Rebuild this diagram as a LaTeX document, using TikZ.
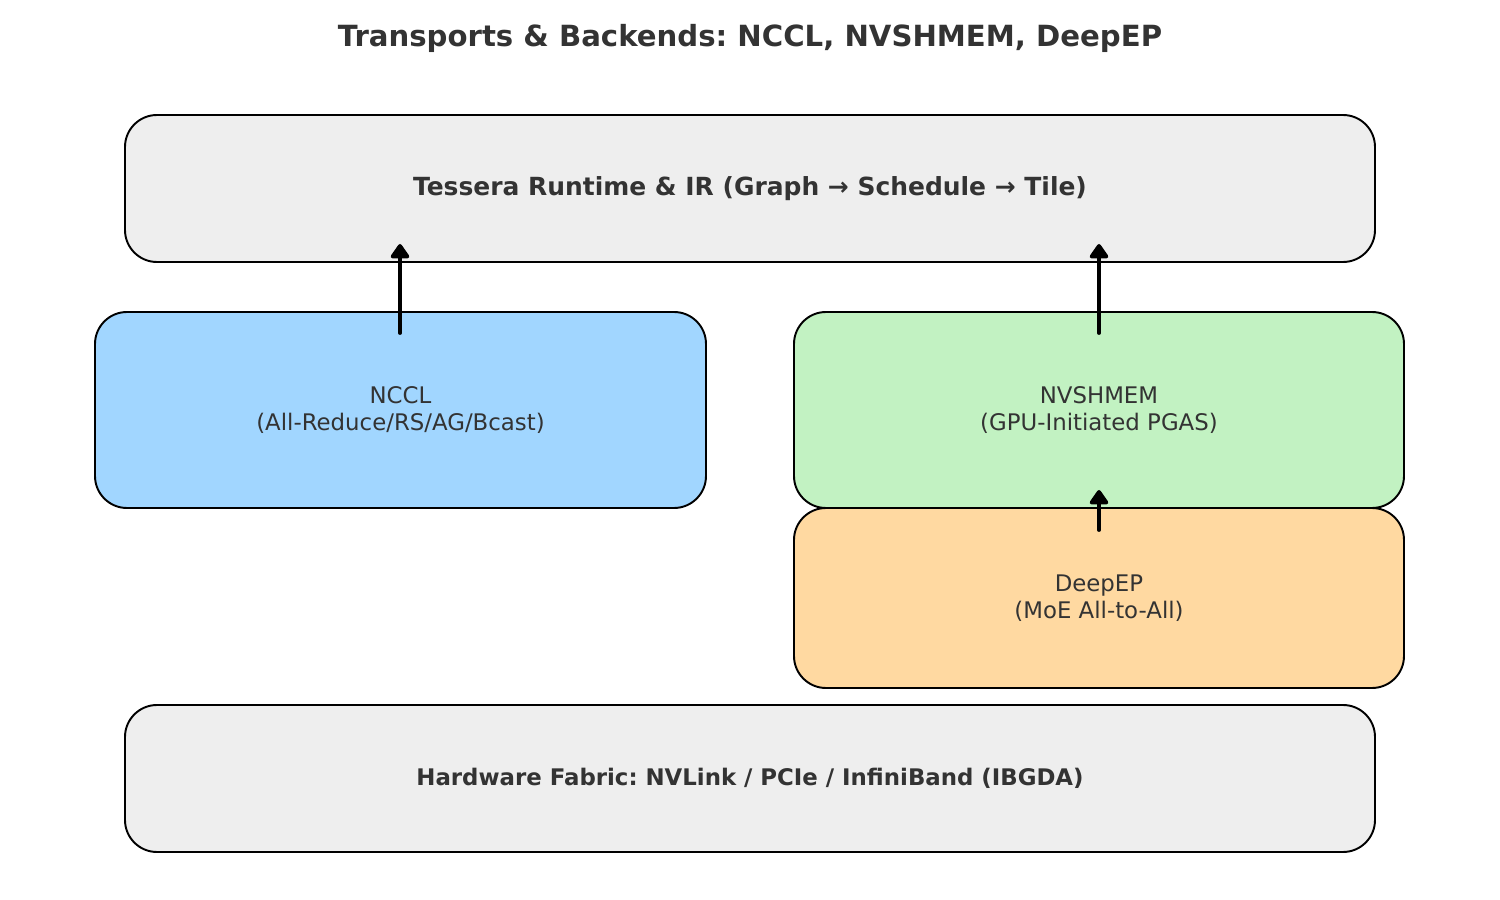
\documentclass[tikz,border=0pt]{standalone}
\usepackage{fontspec}
\setmainfont{DejaVu Sans}
\usetikzlibrary{arrows.meta}
\definecolor{txtgray}{RGB}{51, 51, 51}
\definecolor{layergray}{RGB}{238, 238, 238}
\definecolor{ncclblue}{RGB}{161, 214, 255}
\definecolor{shmemgreen}{RGB}{194, 242, 194}
\definecolor{deeporange}{RGB}{255, 217, 161}
\tikzset{
  layer/.style={draw=black, line width=0.55pt, rounded corners=.32cm, text=txtgray, align=center, inner sep=0pt},
  up/.style={-{Triangle[length=1.6mm, width=2.1mm, round]}, line width=1.1pt, line cap=round}
}

\begin{document}
\frenchspacing
\begin{tikzpicture}
        %\draw[step=1cm,gray,very thin] (0,0) grid (15,9);
        \useasboundingbox (0,0) rectangle (15,9);
        \node[text=txtgray, font=\fontsize{8.3}{10}\selectfont\bfseries] (T) at (7.5,8.62) {Transports \& Backends: NCCL, NVSHMEM, DeepEP};
        \node[layer, fill=layergray, minimum width=12.5cm, minimum height=1.47cm, font=\fontsize{7.1}{8.5}\selectfont\bfseries] (RT) at (7.5,7.115) {Tessera Runtime \& IR (Graph → Schedule → Tile)};
        \node[layer, fill=ncclblue, minimum width=6.11cm, minimum height=1.96cm, font=\fontsize{6.5}{7.8}\selectfont] (NC) at (4.005,4.9) {NCCL\\(All-Reduce/RS/AG/Bcast)};
        \node[layer, fill=shmemgreen, minimum width=6.1cm, minimum height=1.96cm, font=\fontsize{6.5}{7.8}\selectfont] (NV) at (10.99,4.9) {NVSHMEM\\(GPU-Initiated PGAS)};
        \node[layer, fill=deeporange, minimum width=6.1cm, minimum height=1.8cm, font=\fontsize{6.5}{7.8}\selectfont] (DE) at (10.99,3.02) {DeepEP\\(MoE All-to-All)};
        \node[layer, fill=layergray, minimum width=12.5cm, minimum height=1.47cm, font=\fontsize{6.5}{7.8}\selectfont\bfseries] (HW) at (7.5,1.215) {Hardware Fabric: NVLink / PCIe / InfiniBand (IBGDA)};
        \coordinate (NCtop) at (4.0,5.67);
        \coordinate (NVtop) at (10.99,5.67);
        \coordinate (DEtop) at (10.99,3.7);
        \draw[up] (NCtop) -- (NCtop |- 0,6.56);
        \draw[up] (NVtop) -- (NVtop |- 0,6.56);
        \draw[up] (DEtop) -- (DEtop |- 0,4.10);
\end{tikzpicture}
\end{document}
